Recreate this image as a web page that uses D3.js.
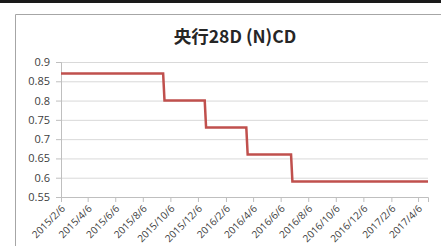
<!DOCTYPE html>
<meta charset="utf-8">
<style>
body { margin: 0; background: #fff; }
.grid line { stroke: #d9d9d9; }
.axis text { fill: #404040; font-family: "Open Sans", sans-serif; }
</style>
<body>
<script src="https://cdn.jsdelivr.net/npm/d3@7/dist/d3.min.js"></script>
<script>

// step series (date, rate)
var dates = ["2015/2/6", "2015/9/20", "2015/9/23", "2015/12/21", "2015/12/24",
             "2016/3/22", "2016/3/25", "2016/6/29", "2016/7/2", "2017/4/28"];
var rates = [0.87, 0.87, 0.80, 0.80, 0.73, 0.73, 0.66, 0.66, 0.59, 0.59];
var yTicks = [0.55, 0.6, 0.65, 0.7, 0.75, 0.8, 0.85, 0.9];
var xTickLabels = ["2015/2/6", "2015/4/6", "2015/6/6", "2015/8/6", "2015/10/6", "2015/12/6",
                   "2016/2/6", "2016/4/6", "2016/6/6", "2016/8/6", "2016/10/6", "2016/12/6",
                   "2017/2/6", "2017/4/6"];
var title = "央行28D (N)CD";

var parse = d3.timeParse("%Y/%-m/%-d");
var data = dates.map(function(d, i) { return {date: parse(d), v: rates[i]}; });

var W = 441, H = 246;
var margin = {top: 62, right: 13, bottom: 49, left: 61},
    width = W - margin.left - margin.right,
    height = H - margin.top - margin.bottom;

var svg = d3.select("body").append("svg")
    .attr("width", W)
    .attr("height", H);

// dark strip on top and the chart frame
svg.append("rect").attr("x", 0).attr("y", 0).attr("width", W).attr("height", 3).attr("fill", "#1a1a1a");
svg.append("path")
    .attr("d", "M15.5," + H + "V14.5H" + W)
    .attr("fill", "none").attr("stroke", "#a6a6a6");

svg.append("text")
    .attr("x", 235).attr("y", 43)
    .attr("text-anchor", "middle")
    .style("font-family", "'Noto Sans CJK SC', sans-serif")
    .style("font-size", "17.5px")
    .style("font-weight", "bold")
    .attr("fill", "#262626")
    .text(title);

var g = svg.append("g")
    .attr("transform", "translate(" + margin.left + "," + margin.top + ")");

var x = d3.scaleTime()
    .domain(d3.extent(data, function(d) { return d.date; }))
    .range([0, width]);
var y = d3.scaleLinear()
    .domain([0.55, 0.9])
    .range([height, 0]);

g.append("g")
    .attr("class", "grid")
    .call(d3.axisLeft(y).tickValues(yTicks).tickSize(-width).tickFormat(""))
    .call(function(s) { s.select(".domain").remove(); });

var yAxis = g.append("g")
    .attr("class", "axis")
    .call(d3.axisLeft(y).tickValues(yTicks).tickSize(5).tickPadding(6)
      .tickFormat(function(d) { return String(+d.toFixed(2)); }));
yAxis.selectAll("text").style("font-size", "11px");
yAxis.selectAll("line, path").attr("stroke", "#bfbfbf");

var xAxis = g.append("g")
    .attr("class", "axis")
    .attr("transform", "translate(0," + height + ")")
    .call(d3.axisBottom(x).tickValues(xTickLabels.map(parse)).tickSize(5)
      .tickFormat(d3.timeFormat("%Y/%-m/%-d")));
xAxis.selectAll("line, path").attr("stroke", "#bfbfbf");
xAxis.selectAll("text")
    .style("font-size", "10px")
    .attr("text-anchor", "end")
    .attr("x", 0)
    .attr("y", 0)
    .attr("dy", "0.75em")
    .attr("transform", "translate(-1,7) rotate(-45)");

g.append("path")
    .datum(data)
    .attr("fill", "none")
    .attr("stroke", "#c0504d")
    .attr("stroke-width", 2.5)
    .attr("d", d3.line()
      .x(function(d) { return x(d.date); })
      .y(function(d) { return y(d.v); }));

</script>
</body>
